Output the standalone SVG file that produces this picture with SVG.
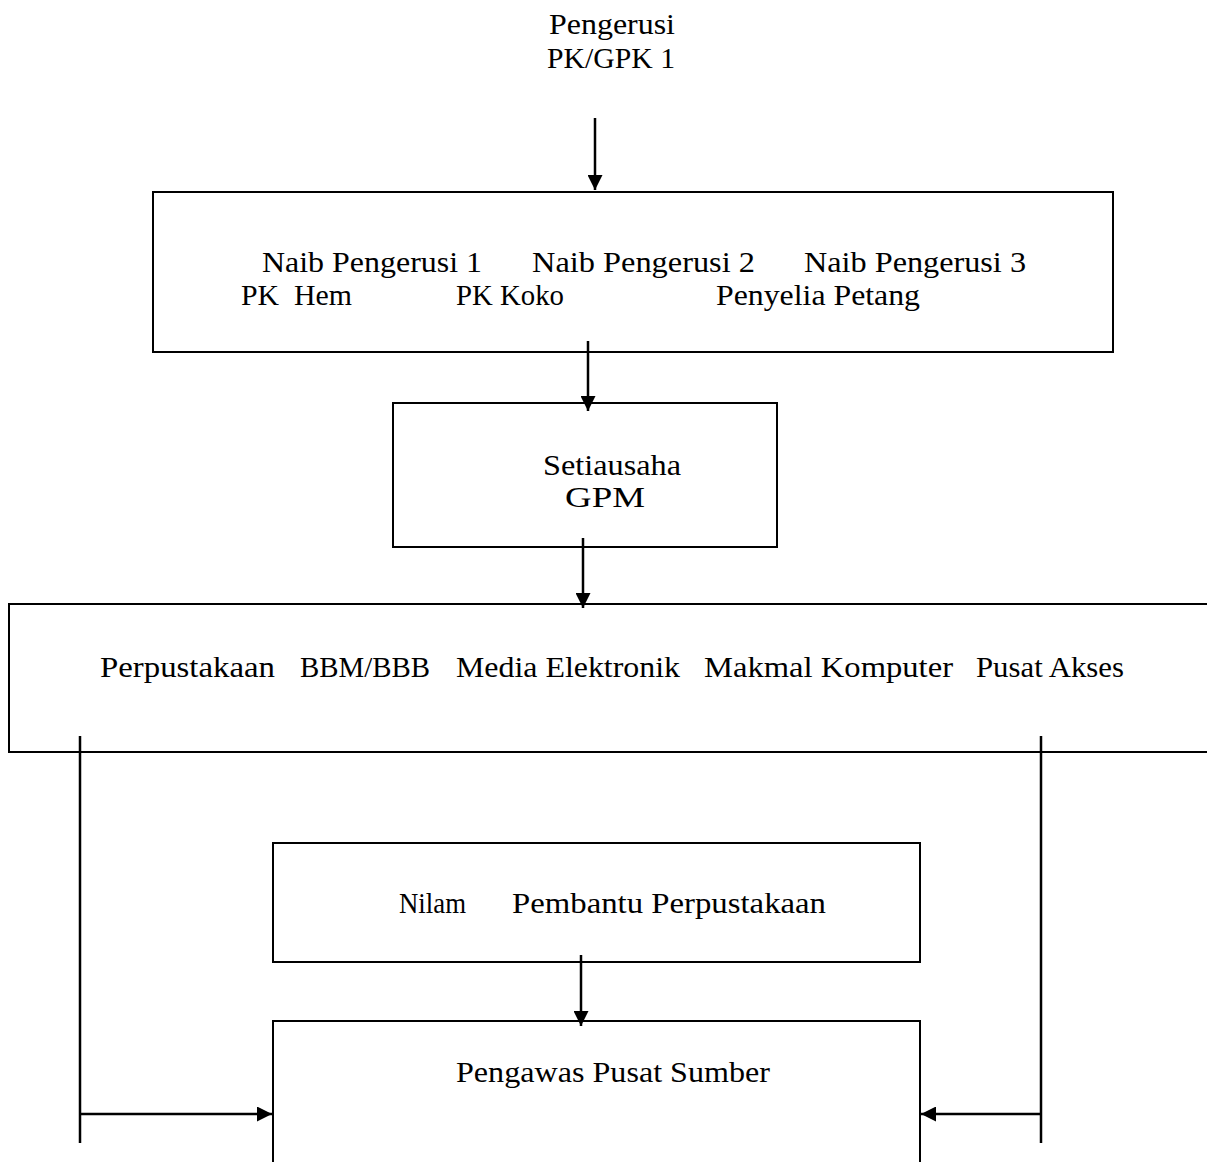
<svg xmlns="http://www.w3.org/2000/svg" width="1207" height="1162" viewBox="0 0 1207 1162">
<style>
text{font-family:"Liberation Serif","Times New Roman",serif;font-size:29px;fill:#000}
.box{fill:none;stroke:#000;stroke-width:2}
.ln{fill:none;stroke:#000;stroke-width:2.5}
</style>
<defs>
<marker id="a" viewBox="0 0 15 15" refX="15" refY="7.5" markerWidth="15" markerHeight="15" orient="auto" markerUnits="userSpaceOnUse">
<path d="M0,0 L15,7.5 L0,15 Z" fill="#000"/>
</marker>
</defs>
<rect width="1207" height="1162" fill="#fff"/>
<g id="pengerusi">
<text x="549" y="34" textLength="126" lengthAdjust="spacingAndGlyphs">Pengerusi</text>
<text x="547" y="68" textLength="128" lengthAdjust="spacingAndGlyphs">PK/GPK 1</text>
</g>
<g id="naib">
<rect class="box" x="153" y="192" width="960" height="160"/>
<text x="262" y="272" textLength="220" lengthAdjust="spacingAndGlyphs">Naib Pengerusi 1</text>
<text x="532" y="272" textLength="223" lengthAdjust="spacingAndGlyphs">Naib Pengerusi 2</text>
<text x="804" y="272" textLength="222" lengthAdjust="spacingAndGlyphs">Naib Pengerusi 3</text>
<text x="241" y="305" textLength="111" lengthAdjust="spacingAndGlyphs" xml:space="preserve">PK  Hem</text>
<text x="456" y="305" textLength="108" lengthAdjust="spacingAndGlyphs">PK Koko</text>
<text x="716" y="305" textLength="204" lengthAdjust="spacingAndGlyphs">Penyelia Petang</text>
</g>
<g id="setiausaha">
<rect class="box" x="393" y="403" width="384" height="144"/>
<text x="543" y="475" textLength="138" lengthAdjust="spacingAndGlyphs">Setiausaha</text>
<text x="565" y="507" textLength="80" lengthAdjust="spacingAndGlyphs">GPM</text>
</g>
<g id="unit">
<path class="box" d="M1215,604 L9,604 L9,752 L1215,752"/>
<text x="100" y="677" textLength="175" lengthAdjust="spacingAndGlyphs">Perpustakaan</text>
<text x="300" y="677" textLength="130" lengthAdjust="spacingAndGlyphs">BBM/BBB</text>
<text x="456" y="677" textLength="224" lengthAdjust="spacingAndGlyphs">Media Elektronik</text>
<text x="704" y="677" textLength="249" lengthAdjust="spacingAndGlyphs">Makmal Komputer</text>
<text x="976" y="677" textLength="148" lengthAdjust="spacingAndGlyphs">Pusat Akses</text>
</g>
<g id="nilam">
<rect class="box" x="273" y="843" width="647" height="119"/>
<text x="399" y="913" textLength="67" lengthAdjust="spacingAndGlyphs">Nilam</text>
<text x="512" y="913" textLength="314" lengthAdjust="spacingAndGlyphs">Pembantu Perpustakaan</text>
</g>
<g id="pengawas">
<path class="box" d="M273,1170 L273,1021 L920,1021 L920,1170"/>
<text x="456" y="1082" textLength="314" lengthAdjust="spacingAndGlyphs">Pengawas Pusat Sumber</text>
</g>
<g id="connectors">
<line class="ln" x1="595" y1="118" x2="595" y2="190" marker-end="url(#a)"/>
<line class="ln" x1="588" y1="341" x2="588" y2="411" marker-end="url(#a)"/>
<line class="ln" x1="583" y1="538" x2="583" y2="608" marker-end="url(#a)"/>
<line class="ln" x1="581" y1="955" x2="581" y2="1026" marker-end="url(#a)"/>
<line class="ln" x1="80" y1="736" x2="80" y2="1143"/>
<line class="ln" x1="1041" y1="736" x2="1041" y2="1143"/>
<line class="ln" x1="80" y1="1114" x2="272" y2="1114" marker-end="url(#a)"/>
<line class="ln" x1="1041" y1="1114" x2="921" y2="1114" marker-end="url(#a)"/>
</g>
</svg>
